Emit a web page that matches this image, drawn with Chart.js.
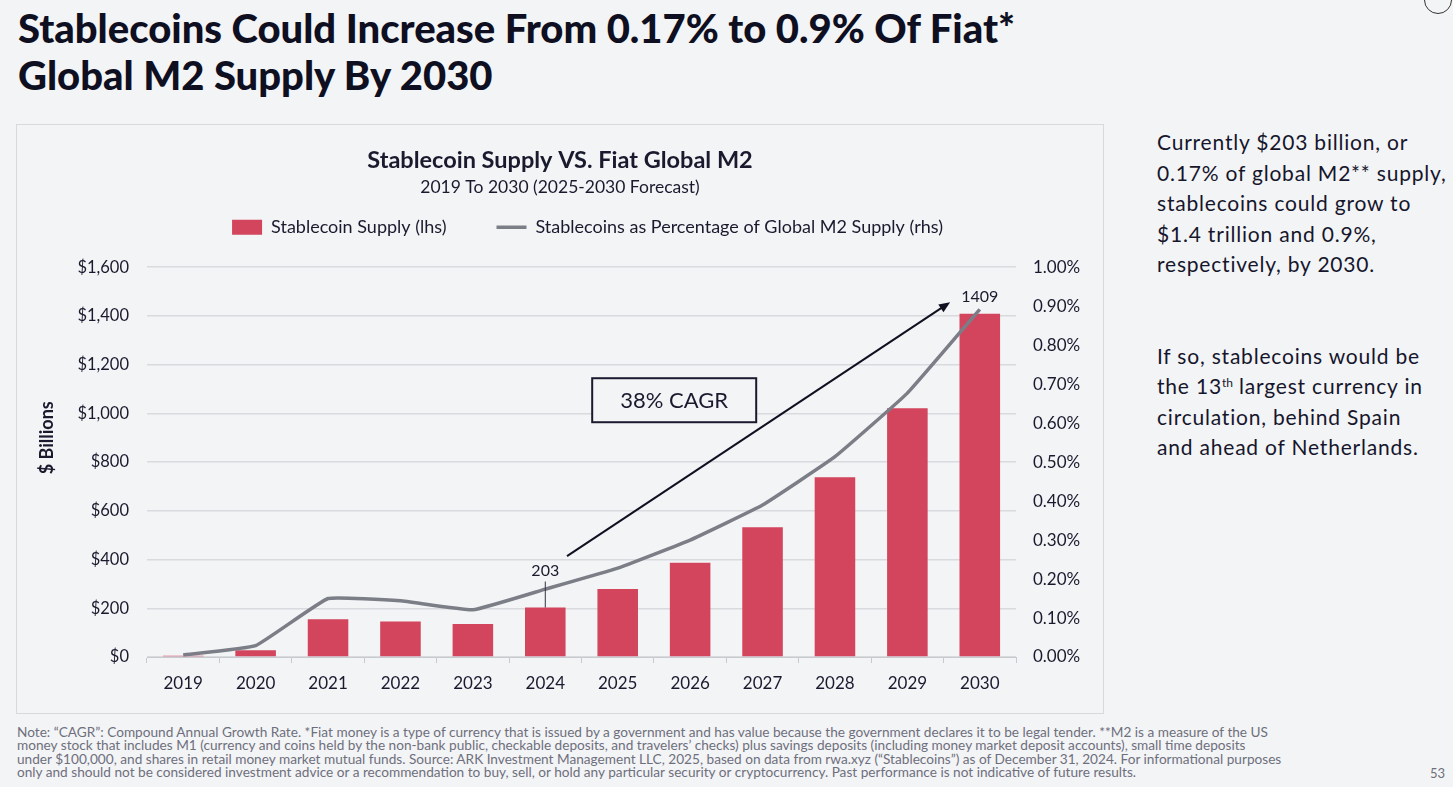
<!DOCTYPE html>
<html>
<head>
<meta charset="utf-8">
<script src="https://cdn.jsdelivr.net/npm/chart.js@4.4.1/dist/chart.umd.min.js"></script>
<style>
  body { margin: 0; width: 1453px; height: 787px; overflow: hidden; position: relative;
         background: #f3f4f6; font-family: Lato, sans-serif; color: #14142b; }
  #title { position: absolute; left: 18px; top: 5px; font-weight: 900; font-size: 40px;
           line-height: 47px; white-space: nowrap; transform-origin: 0 0; color: #0f0f22; }
  #panel { position: absolute; left: 17px; top: 125px; width: 1086px; height: 588px;
           outline: 1px solid #d8d9dd; }
  #side { position: absolute; left: 1157px; top: 127px; font-size: 21px; line-height: 30.5px;
          letter-spacing: 0.8px; color: #16162c; white-space: nowrap; }
  #side p { margin: 0 0 61px 0; }
  #side sup { font-size: 12px; vertical-align: 7px; line-height: 0; letter-spacing: 0; }
  #note { position: absolute; left: 17px; top: 726px; font-size: 13px; line-height: 13.3px;
          color: #6e6f7c; white-space: nowrap; transform-origin: 0 0; }
  #page { position: absolute; right: 8px; top: 765px; font-size: 13px; color: #6e6f7c; }
  #logo { position: absolute; left: 1424px; top: -14px; width: 26px; height: 26px;
          border: 1.5px solid #333; border-radius: 50%; }
</style>
</head>
<body>
<div id="title"><span id="t1">Stablecoins Could Increase From 0.17% to 0.9% Of Fiat*</span><br><span>Global M2 Supply By 2030</span></div>
<div id="logo"></div>
<div id="panel"><canvas id="chart"></canvas></div>
<div id="side">
  <p>Currently $203 billion, or<br>0.17% of global M2** supply,<br>stablecoins could grow to<br>$1.4 trillion and 0.9%,<br>respectively, by 2030.</p>
  <p>If so, stablecoins would be<br>the 13<sup>th</sup> largest currency in<br>circulation, behind Spain<br>and ahead of Netherlands.</p>
</div>
<div id="note"><span id="n1">Note: “CAGR”: Compound Annual Growth Rate. *Fiat money is a type of currency that is issued by a government and has value because the government declares it to be legal tender. **M2 is a measure of the US</span><br>money stock that includes M1 (currency and coins held by the non-bank public, checkable deposits, and travelers’ checks) plus savings deposits (including money market deposit accounts), small time deposits<br>under $100,000, and shares in retail money market mutual funds. Source: ARK Investment Management LLC, 2025, based on data from rwa.xyz (“Stablecoins”) as of December 31, 2024. For informational purposes<br>only and should not be considered investment advice or a recommendation to buy, sell, or hold any particular security or cryptocurrency. Past performance is not indicative of future results.</div>
<div id="page">53</div>

<script>
// fit headline and footnote to the widths they have in the slide
function fitWidth(boxId, spanId, w) {
  const s = w / document.getElementById(spanId).getBoundingClientRect().width;
  document.getElementById(boxId).style.transform = 'scaleX(' + s + ')';
}
fitWidth('title', 't1', 997);
fitWidth('note', 'n1', 1251);

const years = ['2019', '2020', '2021', '2022', '2023', '2024', '2025', '2026', '2027', '2028', '2029', '2030'];
// $ billions
const supply = [5, 28, 155, 146, 135, 203, 279, 387, 533, 738, 1021, 1409];
// % of global M2
const m2Share = [0.005, 0.029, 0.150, 0.144, 0.121, 0.174, 0.228, 0.300, 0.390, 0.514, 0.677, 0.892];

const RED = '#d2455d';
const GREY = '#7c7e87';
const INK = '#1a1a2e';

// callouts, in data coordinates (category index, $ billions)
const arrowFrom = [5.30, 414];
const arrowTo = [10.59, 1456];
const cagrBox = [6.78, 1054];
const cagrText = '38% CAGR';
const axisTitle = '$ Billions';

const callouts = {
  id: 'callouts',
  afterLayout(chart) {
    // legend sits higher and a bit right of where Chart.js would put it
    chart.legend.top -= 21;
    chart.legend.bottom -= 21;
    chart.legend.left += 55;
  },
  afterDatasetsDraw(chart) {
    const ctx = chart.ctx;
    const x = chart.scales.x, y = chart.scales.y;
    ctx.save();

    // left axis title, a little above the middle like the slide
    ctx.save();
    ctx.translate(y.left + 30, y.getPixelForValue(900));
    ctx.rotate(-Math.PI / 2);
    ctx.fillStyle = INK;
    ctx.font = 'bold 18px Lato';
    ctx.textAlign = 'center';
    ctx.textBaseline = 'middle';
    ctx.fillText(axisTitle, 0, 0);
    ctx.restore();

    // arrow
    const x0 = x.getPixelForValue(arrowFrom[0]), y0 = y.getPixelForValue(arrowFrom[1]);
    const x1 = x.getPixelForValue(arrowTo[0]), y1 = y.getPixelForValue(arrowTo[1]);
    const ang = Math.atan2(y1 - y0, x1 - x0);
    ctx.strokeStyle = '#101020';
    ctx.fillStyle = '#101020';
    ctx.lineWidth = 2;
    ctx.beginPath();
    ctx.moveTo(x0, y0);
    ctx.lineTo(x1 - 8 * Math.cos(ang), y1 - 8 * Math.sin(ang));
    ctx.stroke();
    ctx.beginPath();
    ctx.moveTo(x1, y1);
    ctx.lineTo(x1 - 12 * Math.cos(ang - 0.4), y1 - 12 * Math.sin(ang - 0.4));
    ctx.lineTo(x1 - 12 * Math.cos(ang + 0.4), y1 - 12 * Math.sin(ang + 0.4));
    ctx.closePath();
    ctx.fill();

    // CAGR box
    const bx = x.getPixelForValue(cagrBox[0]), by = y.getPixelForValue(cagrBox[1]);
    ctx.fillStyle = '#f3f4f6';
    ctx.fillRect(bx - 82, by - 22, 164, 44);
    ctx.strokeStyle = '#1a1a2e';
    ctx.lineWidth = 2;
    ctx.strokeRect(bx - 82, by - 22, 164, 44);
    ctx.fillStyle = INK;
    ctx.font = '22px Lato';
    ctx.textAlign = 'center';
    ctx.textBaseline = 'middle';
    ctx.fillText(cagrText, bx, by + 1);

    // 2024 value with leader line
    ctx.font = '16px Lato';
    const cx = x.getPixelForValue(5);
    const top24 = y.getPixelForValue(supply[5]);
    ctx.fillText(String(supply[5]), cx, top24 - 37);
    ctx.strokeStyle = '#333344';
    ctx.lineWidth = 1;
    ctx.beginPath();
    ctx.moveTo(cx, top24 - 26);
    ctx.lineTo(cx, top24);
    ctx.stroke();

    // 2030 value
    ctx.fillText(String(supply[11]), x.getPixelForValue(11), y.getPixelForValue(supply[11]) - 17);
    ctx.restore();
  }
};

new Chart(document.getElementById('chart'), {
  data: {
    labels: years,
    datasets: [
      {
        type: 'bar',
        label: 'Stablecoin Supply (lhs)',
        data: supply,
        backgroundColor: RED,
        pointStyle: 'rect',
        barPercentage: 0.56,
        categoryPercentage: 1,
        yAxisID: 'y',
        order: 1
      },
      {
        type: 'line',
        label: 'Stablecoins as Percentage of Global M2 Supply (rhs)',
        data: m2Share,
        borderColor: GREY,
        backgroundColor: GREY,
        borderWidth: 3.5,
        pointRadius: 0,
        pointStyle: 'line',
        tension: 0.1,
        yAxisID: 'y1',
        order: 0
      }
    ]
  },
  options: {
    responsive: true,
    maintainAspectRatio: false,
    animation: false,
    layout: { padding: 0 },
    plugins: {
      title: {
        display: true,
        text: 'Stablecoin Supply VS. Fiat Global M2',
        color: INK,
        font: { family: 'Lato', size: 23.5, weight: 'bold' },
        padding: { top: 21, bottom: 0 }
      },
      subtitle: {
        display: true,
        text: '2019 To 2030 (2025-2030 Forecast)',
        color: INK,
        font: { family: 'Lato', size: 17.5 },
        padding: { top: 2.5, bottom: -8.5 }
      },
      legend: {
        position: 'top',
        labels: {
          usePointStyle: true,
          pointStyleWidth: 30,
          boxHeight: 15,
          padding: 50,
          color: INK,
          font: { family: 'Lato', size: 18 },
          sort: (a, b) => a.datasetIndex - b.datasetIndex
        }
      },
      tooltip: { enabled: false }
    },
    scales: {
      x: {
        offset: true,
        grid: { display: true, offset: true, drawOnChartArea: false, tickLength: 6, color: '#c9cacf' },
        border: { display: true, color: '#c9cacf' },
        ticks: { color: INK, font: { family: 'Lato', size: 17 }, padding: 10 },
        afterFit(s) { s.height = 56; }
      },
      y: {
        position: 'left',
        min: 0,
        max: 1600,
        ticks: {
          stepSize: 200,
          color: INK,
          padding: 18,
          font: { family: 'Lato', size: 16.5 },
          callback: v => '$' + v.toLocaleString('en-US')
        },
        grid: { color: '#d9dade', lineWidth: 1.5, drawTicks: false },
        border: { display: false },
        afterFit(s) { s.width = 130; }
      },
      y1: {
        position: 'right',
        min: 0,
        max: 1,
        ticks: {
          stepSize: 0.1,
          color: INK,
          padding: 17,
          font: { family: 'Lato', size: 17 },
          callback: v => v.toFixed(2) + '%'
        },
        grid: { display: false, drawTicks: false },
        border: { display: false },
        afterFit(s) { s.width = 87; }
      }
    }
  },
  plugins: [callouts]
});
</script>
</body>
</html>
